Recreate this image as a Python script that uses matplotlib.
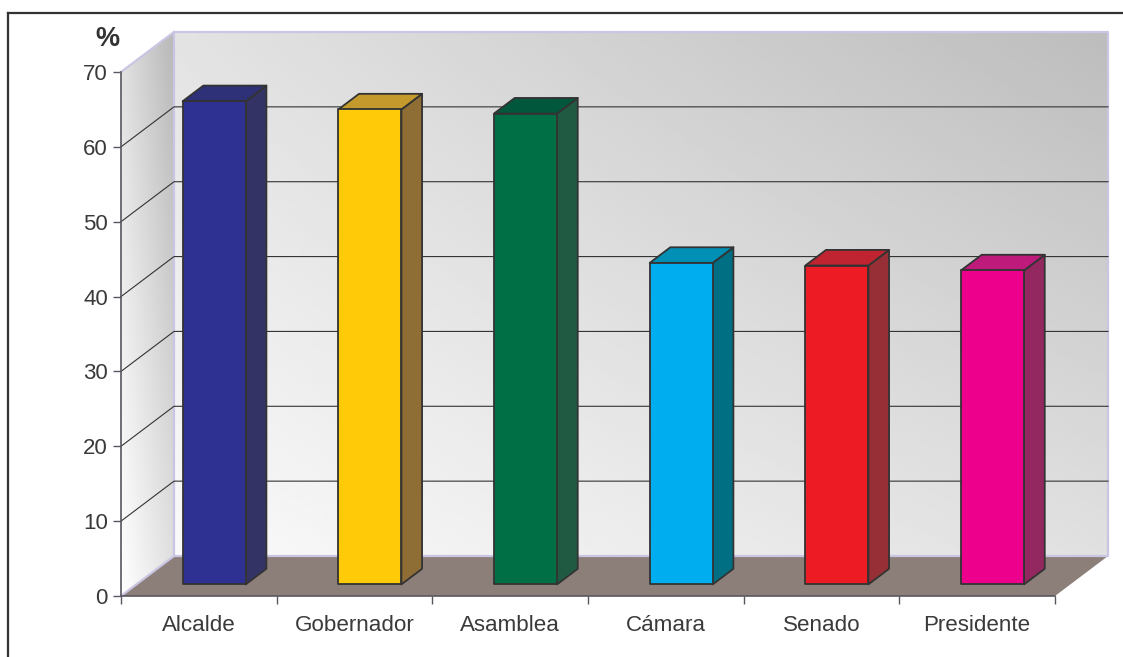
import numpy as np
import matplotlib
matplotlib.use("Agg")
import matplotlib.pyplot as plt
from matplotlib.lines import Line2D
from matplotlib.patches import Polygon

plt.rcParams["font.family"] = ["Liberation Sans", "DejaVu Sans"]

# datos
categorias = ["Alcalde", "Gobernador", "Asamblea", "Cámara", "Senado", "Presidente"]
valores = [64.55, 63.45, 62.9, 42.95, 42.6, 41.95]
marcas_y = [0, 10, 20, 30, 40, 50, 60, 70]
color_frente = ["#2e3192", "#ffcb08", "#006f46", "#00aeef", "#ed1c24", "#ec008c"]
color_arriba = ["#2e3178", "#c49a2c", "#00573b", "#008fb5", "#bf2430", "#bd1a7c"]
color_lado = ["#333366", "#8f6e35", "#215a42", "#006f84", "#962f36", "#92285f"]

W, H = 1123, 657
fig = plt.figure(figsize=(W / 100, H / 100), dpi=100)
ax = fig.add_axes([121 / W, 1 - 596 / H, 934 / W, 524 / H])
ax.patch.set_visible(False)

# desplazamiento de la profundidad en unidades de datos
DX = 53 / (934 / 6)
DY = 40 / (524 / 70)
N = len(categorias)
TOPE = marcas_y[-1]
LAVANDA = "#c9c5e2"


def pro(x, v, d):
    return (x + d * DX, v + d * DY)


def gradiente(c00, c10, c01, c11, extent, clip=None):
    # c00 abajo izq, c10 abajo der, c01 arriba izq, c11 arriba der
    u, t = np.meshgrid(np.linspace(0, 1, 200), np.linspace(0, 1, 200))
    z = (c00 * (1 - u) * (1 - t) + c10 * u * (1 - t) + c01 * (1 - u) * t + c11 * u * t)
    im = ax.imshow(z, origin="lower", extent=extent, aspect="auto", cmap="gray",
                   vmin=0, vmax=1, zorder=1, clip_on=False, interpolation="bilinear")
    if clip is not None:
        # la caja de recorte tiene que ser la figura, la pared sale de los ejes
        im.set_clip_on(True)
        im.set_clip_path(clip)
        im.set_clip_box(fig.bbox)
    return im


# pared del fondo
gradiente(0.98, 0.88, 0.89, 0.74, [DX, N + DX, DY, TOPE + DY])

# pared lateral
lado = Polygon([pro(0, 0, 0), pro(0, 0, 1), pro(0, TOPE, 1), pro(0, TOPE, 0)],
               closed=True, transform=ax.transData, fc="none", ec="none")
ax.add_patch(lado)
gradiente(1.0, 0.88, 0.88, 0.72, [0, DX, 0, TOPE + DY], clip=lado)

# piso
ax.add_patch(Polygon([pro(0, 0, 0), pro(N, 0, 0), pro(N, 0, 1), pro(0, 0, 1)],
                     closed=True, fc="#8c7f7a", ec="none", zorder=2, clip_on=False))

# bordes de las paredes
ax.plot(*zip(pro(0, 0, 0), pro(0, 0, 1), pro(N, 0, 1), pro(N, TOPE, 1), pro(0, TOPE, 1),
             pro(0, TOPE, 0)), color=LAVANDA, lw=1.6, zorder=3, clip_on=False)
ax.plot(*zip(pro(0, 0, 1), pro(0, TOPE, 1)), color=LAVANDA, lw=1.6, zorder=3, clip_on=False)

# cuadrícula
for m in marcas_y[1:-1]:
    ax.plot(*zip(pro(0, m, 0), pro(0, m, 1), pro(N, m, 1)), color="#333333", lw=0.8,
            zorder=3, clip_on=False)

# barras
ANCHO = 0.405
D0, D1 = 0.29, 0.68
for i, v in enumerate(valores):
    x0 = i + 0.5 - ANCHO / 2
    x1 = x0 + ANCHO
    estilo = dict(closed=True, ec="#333333", lw=1.3, zorder=5, joinstyle="round", clip_on=False)
    ax.add_patch(Polygon([pro(x1, 0, D0), pro(x1, 0, D1), pro(x1, v, D1), pro(x1, v, D0)],
                         fc=color_lado[i], **estilo))
    ax.add_patch(Polygon([pro(x0, v, D0), pro(x1, v, D0), pro(x1, v, D1), pro(x0, v, D1)],
                         fc=color_arriba[i], **estilo))
    ax.add_patch(Polygon([pro(x0, 0, D0), pro(x1, 0, D0), pro(x1, v, D0), pro(x0, v, D0)],
                         fc=color_frente[i], **estilo))

# ejes
ax.set_xlim(0, N)
ax.set_ylim(0, TOPE)
for s in ["top", "right"]:
    ax.spines[s].set_visible(False)
for s in ["left", "bottom"]:
    ax.spines[s].set_color("#5a5560")
    ax.spines[s].set_linewidth(1.2)
    ax.spines[s].set_zorder(6)
ax.set_yticks(marcas_y)
ax.tick_params(axis="y", length=6, width=1, color="#5a5560", pad=3.5,
               labelsize=16, labelcolor="#3a3a3a")
ax.set_xticks(range(N + 1))
ax.set_xticklabels([])
ax.set_xticks([i + 0.5 for i in range(N)], minor=True)
ax.set_xticklabels(categorias, minor=True)
ax.tick_params(axis="x", which="major", length=6, width=1, color="#5a5560")
ax.tick_params(axis="x", which="minor", length=0, pad=14, labelsize=16.1, labelcolor="#3a3a3a")

# marco y símbolo de porcentaje
fig.add_artist(Line2D([8 / W, 8 / W], [0, 1 - 13 / H], color="#333333", lw=1.6))
fig.add_artist(Line2D([8 / W, 1], [1 - 13 / H, 1 - 13 / H], color="#333333", lw=1.6))
fig.text(107 / W, 1 - 39 / H, "%", fontsize=19.5, fontweight="bold", color="#333333",
         ha="center", va="center")

fig.savefig("out.png", dpi=100)
